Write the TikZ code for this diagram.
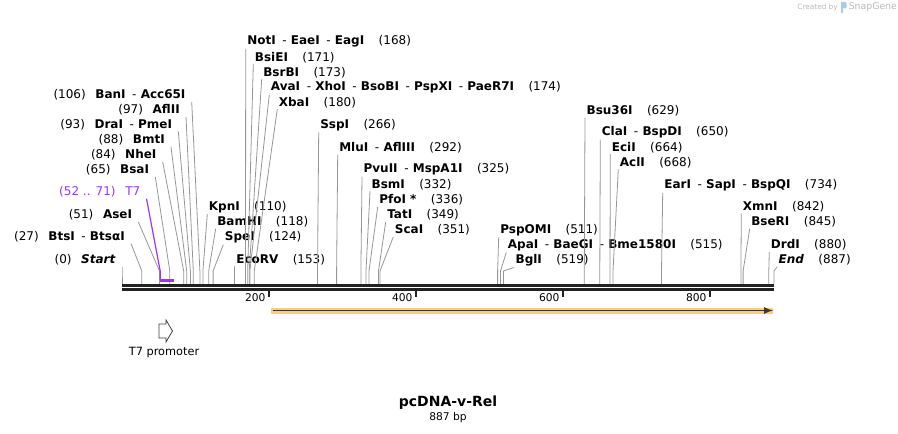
\documentclass[tikz,border=0pt]{standalone}
\usepackage{fontspec}
\setmainfont{DejaVu Sans}
\usetikzlibrary{calc}
\usetikzlibrary{positioning}

\definecolor{cutgray}{RGB}{150,150,150}
\definecolor{railblack}{RGB}{34,34,34}
\definecolor{tsevenpurple}{RGB}{153,51,255}
\definecolor{cdsglow}{RGB}{255,204,120}
\definecolor{cdsdark}{RGB}{60,55,40}
\definecolor{sgtext}{RGB}{185,185,185}
\definecolor{sgblue}{RGB}{165,205,235}

\newcommand{\enzfont}{\fontsize{9}{10}\selectfont}
\newcommand{\rgap}{\hspace{1.2em}}
\newcommand{\lgap}{\hspace{0.8em}}
\newcommand{\esep}{\hspace{0.55em}-\hspace{0.35em}}

\begin{document}
\begin{tikzpicture}[
  x=0.75pt, y=-0.75pt,
  > = latex,
  enzR/.style = {anchor=west, inner sep=1pt, font=\enzfont},
  enzL/.style = {anchor=east, inner xsep=4.5pt, inner ysep=1pt, font=\enzfont},
  cut/.style = {draw=cutgray, line width=0.6pt},
  rail/.style = {draw=railblack, line width=1.9pt, double=white, double distance=1.3pt},
  tick/.style = {draw=railblack, line width=1.4pt},
  ticklabel/.style = {anchor=east, inner sep=1pt, font=\fontsize{8}{9}\selectfont}
  ]
	\useasboundingbox (0,0) rectangle (898,434);

	% sequence
	\coordinate (seqL) at (122,287.4);
	\coordinate (seqR) at (774,287.4);
	\coordinate (rail) at (0,284);
	\draw[rail] (seqL) -- (seqR);

	\draw[tick] (269,291) -- (269,297);
	\draw[tick] (416,291) -- (416,297);
	\draw[tick] (563,291) -- (563,297);
	\draw[tick] (710,291) -- (710,297);
	\node[ticklabel] (tk200) at (267,297.5) {200};
	\node[ticklabel] (tk400) at (414,297.5) {400};
	\node[ticklabel] (tk600) at (561,297.5) {600};
	\node[ticklabel] (tk800) at (708,297.5) {800};

	% cut sites (bends above the sequence)
	\coordinate (kStart)  at (122.0,271);
	\coordinate (kBtsI)   at (141.8,271);
	\coordinate (kAseI)   at (159.5,271);
	\coordinate (kTseven) at (160.2,271);
	\coordinate (kBsaI)   at (169.8,271);
	\coordinate (kNheI)   at (183.7,271);
	\coordinate (kBmtI)   at (186.7,271);
	\coordinate (kDraI)   at (190.4,271);
	\coordinate (kAflII)  at (193.3,271);
	\coordinate (kBanI)   at (199.9,271);
	\coordinate (kKpnI)   at (202.9,271);
	\coordinate (kBamHI)  at (208.7,271);
	\coordinate (kSpeI)   at (213.1,271);
	\coordinate (kEcoRV)  at (234.5,271);
	\coordinate (kNotI)   at (245.5,271);
	\coordinate (kBsiEI)  at (247.7,271);
	\coordinate (kBsrBI)  at (249.2,271);
	\coordinate (kAvaI)   at (249.9,271);
	\coordinate (kXbaI)   at (254.3,271);
	\coordinate (kSspI)   at (317.5,271);
	\coordinate (kMluI)   at (336.6,271);
	\coordinate (kPvuII)  at (360.9,271);
	\coordinate (kBsmI)   at (366.0,271);
	\coordinate (kPfoI)   at (369.0,271);
	\coordinate (kTatI)   at (378.5,271);
	\coordinate (kScaI)   at (380.0,271);
	\coordinate (kPspOMI) at (497.6,271);
	\coordinate (kApaI)   at (500.5,271);
	\coordinate (kBglI)   at (503.5,271);
	\coordinate (kBsu)    at (584.3,271);
	\coordinate (kClaI)   at (599.8,271);
	\coordinate (kEciI)   at (610.0,271);
	\coordinate (kAclI)   at (613.0,271);
	\coordinate (kEarI)   at (661.5,271);
	\coordinate (kXmnI)   at (740.9,271);
	\coordinate (kBseRI)  at (743.1,271);
	\coordinate (kDrdI)   at (768.8,271);
	\coordinate (kEnd)    at (774.0,271);

	% labels left of their sites
	\node[enzL] (Start) at (122,260)   {(0)\lgap\textbf{\textit{Start}}};
	\node[enzL] (BtsI)  at (131,236.7) {(27)\lgap\textbf{BtsI}\esep\textbf{BtsαI}};
	\node[enzL] (AseI)  at (138.3,215) {(51)\lgap\textbf{AseI}};
	\node[enzL, text=tsevenpurple] (Tseven) at (146.5,191.7) {(52 .. 71)\lgap T7};
	\node[enzL] (BsaI)  at (155.3,170) {(65)\lgap\textbf{BsaI}};
	\node[enzL] (NheI)  at (162.7,155) {(84)\lgap\textbf{NheI}};
	\node[enzL] (BmtI)  at (171,140)   {(88)\lgap\textbf{BmtI}};
	\node[enzL] (DraI)  at (178.3,124.5) {(93)\lgap\textbf{DraI}\esep\textbf{PmeI}};
	\node[enzL] (AflII) at (186,110)   {(97)\lgap\textbf{AflII}};
	\node[enzL] (BanI)  at (191.7,95)  {(106)\lgap\textbf{BanI}\esep\textbf{Acc65I}};

	% labels right of their sites
	\node[enzR] (KpnI)   at (207.3,206.7) {\textbf{KpnI}\rgap(110)};
	\node[enzR] (BamHI)  at (215.7,221.7) {\textbf{BamHI}\rgap(118)};
	\node[enzR] (SpeI)   at (223.3,237.3) {\textbf{SpeI}\rgap(124)};
	\node[enzR] (EcoRV)  at (234.7,259.3) {\textbf{EcoRV}\rgap(153)};
	\node[enzR] (NotI)   at (245.7,41.7)  {\textbf{NotI}\esep\textbf{EaeI}\esep\textbf{EagI}\rgap(168)};
	\node[enzR] (BsiEI)  at (253.3,57.3)  {\textbf{BsiEI}\rgap(171)};
	\node[enzR] (BsrBI)  at (261.7,72.3)  {\textbf{BsrBI}\rgap(173)};
	\node[enzR] (AvaI)   at (269.3,87.3)  {\textbf{AvaI}\esep\textbf{XhoI}\esep\textbf{BsoBI}\esep\textbf{PspXI}\esep\textbf{PaeR7I}\rgap(174)};
	\node[enzR] (XbaI)   at (277.3,102.3) {\textbf{XbaI}\rgap(180)};
	\node[enzR] (SspI)   at (318.7,125)   {\textbf{SspI}\rgap(266)};
	\node[enzR] (MluI)   at (337.7,147.7) {\textbf{MluI}\esep\textbf{AflIII}\rgap(292)};
	\node[enzR] (PvuII)  at (362,169.3)   {\textbf{PvuII}\esep\textbf{MspA1I}\rgap(325)};
	\node[enzR] (BsmI)   at (370,184.3)   {\textbf{BsmI}\rgap(332)};
	\node[enzR] (PfoI)   at (377.7,200)   {\textbf{PfoI *}\rgap(336)};
	\node[enzR] (TatI)   at (385.7,215)   {\textbf{TatI}\rgap(349)};
	\node[enzR] (ScaI)   at (393.3,230)   {\textbf{ScaI}\rgap(351)};
	\node[enzR] (PspOMI) at (498.7,230)   {\textbf{PspOMI}\rgap(511)};
	\node[enzR] (ApaI)   at (506.3,245)   {\textbf{ApaI}\esep\textbf{BaeGI}\esep\textbf{Bme1580I}\rgap(515)};
	\node[enzR] (BglI)   at (514,260)     {\textbf{BglI}\rgap(519)};
	\node[enzR] (Bsu)    at (585,110.7)   {\textbf{Bsu36I}\rgap(629)};
	\node[enzR] (ClaI)   at (600.3,132.3) {\textbf{ClaI}\esep\textbf{BspDI}\rgap(650)};
	\node[enzR] (EciI)   at (610.3,147.3) {\textbf{EciI}\rgap(664)};
	\node[enzR] (AclI)   at (618.3,162.3) {\textbf{AclI}\rgap(668)};
	\node[enzR] (EarI)   at (662.7,185.5) {\textbf{EarI}\esep\textbf{SapI}\esep\textbf{BspQI}\rgap(734)};
	\node[enzR] (XmnI)   at (741.3,206.7) {\textbf{XmnI}\rgap(842)};
	\node[enzR] (BseRI)  at (749.7,221.7) {\textbf{BseRI}\rgap(845)};
	\node[enzR] (DrdI)   at (769.3,245)   {\textbf{DrdI}\rgap(880)};
	\node[enzR] (End)    at (777,260)     {\textbf{\textit{End}}\rgap(887)};

	% connectors
	\draw[cut] (Start.south east) -- (kStart) -- (kStart |- rail);
	\draw[cut] (BtsI.south east)  -- (kBtsI)  -- (kBtsI |- rail);
	\draw[cut] (AseI.south east)  -- (kAseI)  -- (kAseI |- rail);
	\draw[cut] (BsaI.south east)  -- (kBsaI)  -- (kBsaI |- rail);
	\draw[cut] (NheI.south east)  -- (kNheI)  -- (kNheI |- rail);
	\draw[cut] (BmtI.south east)  -- (kBmtI)  -- (kBmtI |- rail);
	\draw[cut] (DraI.south east)  -- (kDraI)  -- (kDraI |- rail);
	\draw[cut] (AflII.south east) -- (kAflII) -- (kAflII |- rail);
	\draw[cut] (BanI.south east)  -- (kBanI)  -- (kBanI |- rail);
	\foreach \e/\k in {KpnI/kKpnI, BamHI/kBamHI, SpeI/kSpeI, EcoRV/kEcoRV,
	                   NotI/kNotI, BsiEI/kBsiEI, BsrBI/kBsrBI, AvaI/kAvaI, XbaI/kXbaI,
	                   SspI/kSspI, MluI/kMluI, PvuII/kPvuII, BsmI/kBsmI, PfoI/kPfoI,
	                   TatI/kTatI, ScaI/kScaI, PspOMI/kPspOMI, ApaI/kApaI, BglI/kBglI,
	                   Bsu/kBsu, ClaI/kClaI, EciI/kEciI, AclI/kAclI, EarI/kEarI,
	                   XmnI/kXmnI, BseRI/kBseRI, DrdI/kDrdI, End/kEnd}
		\draw[cut] (\e.south west) -- (\k) -- (\k |- rail);

	% T7 feature
	\coordinate (tA) at (160.2,280.5);
	\coordinate (tB) at (174.2,280.5);
	\draw[tsevenpurple, line width=0.9pt] (Tseven.south east) -- (kTseven) -- (tA);
	\draw[tsevenpurple, line width=1.6pt] (tA) -- (tB);

	% CDS arrow
	\coordinate (cdsA) at (272.7,310.5);
	\coordinate (cdsB) at (773,310.5);
	\draw[cdsglow, line width=4.5pt] ($(cdsA)+(-1.5,0)$) -- (cdsB);
	\draw[cdsdark, line width=1.3pt, ->] (cdsA) -- (cdsB);

	% T7 promoter
	\draw[draw=darkgray, line width=0.6pt] (159,324) -- (166,324) -- (166,320) -- (172.5,331)
		-- (166,342) -- (166,338) -- (159,338) -- cycle;
	\node[font=\fontsize{8.5}{9}\selectfont] (prom) at (164,352.5) {T7 promoter};

	% title
	\node[font=\bfseries\fontsize{10.5}{12}\selectfont] (title) at (448,403) {pcDNA-v-Rel};
	\node[font=\fontsize{8}{9}\selectfont] (size) at (448,418) {887 bp};

	% credit
	\node[anchor=east, inner sep=0pt, text=sgtext, font=\fontsize{5.5}{6}\selectfont] (created) at (838,7.5) {Created by};
	\fill[sgblue, rounded corners=0.8pt] (841,2) rectangle (846.5,8.5);
	\fill[sgblue] (841,2) rectangle (843.2,13);
	\node[anchor=west, inner sep=0pt, text=sgtext, font=\fontsize{7}{8}\selectfont] (snap) at (848.5,7.5) {SnapGene};

\end{tikzpicture}
\end{document}
